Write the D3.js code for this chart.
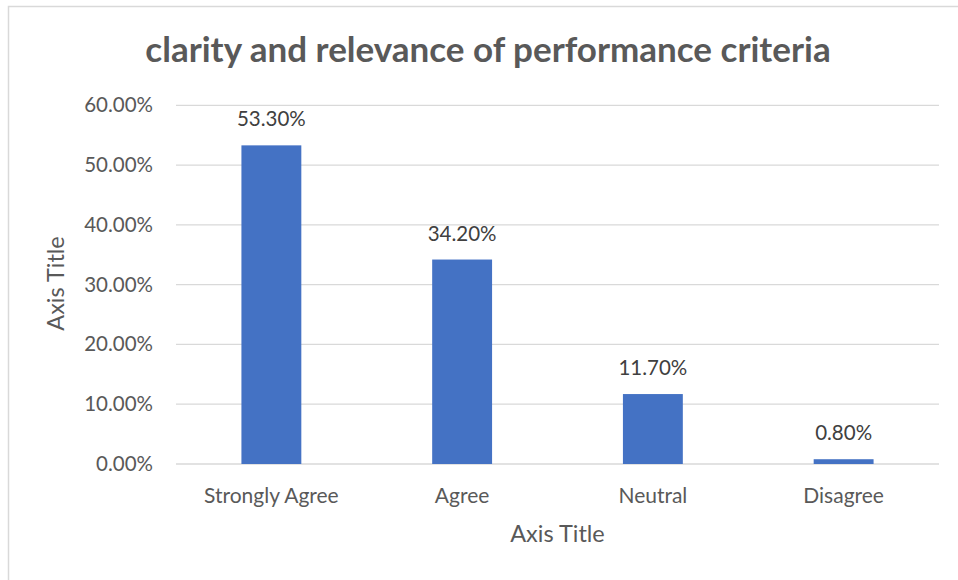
<!DOCTYPE html>
<html><head><meta charset="utf-8">
<script src="https://cdn.jsdelivr.net/npm/d3@7"></script>
<style>body{margin:0;background:#fff}svg{display:block}text{font-family:Lato,"Open Sans",sans-serif}</style>
</head><body>
<script>
const categories = ["Strongly Agree","Agree","Neutral","Disagree"];
const values = [0.533,0.342,0.117,0.008];
const valueLabels = ["53.30%","34.20%","11.70%","0.80%"];
const yTicks = [0,0.1,0.2,0.3,0.4,0.5,0.6];
const title = "clarity and relevance of performance criteria";

(function(){
const W=958,H=580;
const svg=d3.select("body").append("svg").attr("width",W).attr("height",H);
svg.append("rect").attr("x",8.5).attr("y",6.5).attr("width",980).attr("height",600)
  .attr("fill","#fff").attr("stroke","#d9d9d9").attr("stroke-width",1.5);

const pl=176,pr=939,pt=105.3,pb=464;
const x=d3.scaleBand().domain(categories).range([pl,pr]).paddingInner(0.686).paddingOuter(0.343);
const y=d3.scaleLinear().domain([0,0.6]).range([pb,pt]);
const txt="#595959";

svg.append("g").selectAll("line").data(yTicks).join("line")
  .attr("x1",pl).attr("x2",pr).attr("y1",d=>y(d)).attr("y2",d=>y(d))
  .attr("stroke","#d9d9d9").attr("stroke-width",1.3);

const yAxis=d3.axisLeft(y).tickValues(yTicks).tickFormat(d3.format(".2%")).tickSize(0).tickPadding(23);
const ya=svg.append("g").attr("transform",`translate(${pl},0)`).call(yAxis);
ya.select(".domain").remove();
ya.selectAll("text").attr("fill",txt).style("font-size","20.5px").style("font-family","Lato,sans-serif");

svg.append("g").selectAll("rect").data(values).join("rect")
  .attr("x",(d,i)=>x(categories[i])).attr("width",x.bandwidth())
  .attr("y",d=>y(d)).attr("height",d=>pb-y(d)).attr("fill","#4472c4");

svg.append("g").selectAll("text").data(values).join("text")
  .attr("x",(d,i)=>x(categories[i])+x.bandwidth()/2).attr("y",d=>y(d)-19)
  .attr("text-anchor","middle").attr("fill","#404040").style("font-size","20.5px")
  .text((d,i)=>valueLabels[i]);

const xAxis=d3.axisBottom(x).tickSize(0).tickPadding(24);
const xa=svg.append("g").attr("transform",`translate(0,${pb})`).call(xAxis);
xa.select(".domain").remove();
xa.selectAll("text").attr("fill",txt).style("font-size","21px").style("font-family","Lato,sans-serif");

svg.append("text").attr("x",(pl+pr)/2).attr("y",542).attr("text-anchor","middle")
  .attr("fill",txt).style("font-size","23.5px").text("Axis Title");
svg.append("text").attr("transform",`translate(64,283.5) rotate(-90)`).attr("text-anchor","middle")
  .attr("fill",txt).style("font-size","23.5px").text("Axis Title");

svg.append("text").attr("x",488).attr("y",62).attr("text-anchor","middle")
  .attr("fill",txt).style("font-size","35px").style("font-weight","bold").text(title);
})();
</script>
</body></html>
